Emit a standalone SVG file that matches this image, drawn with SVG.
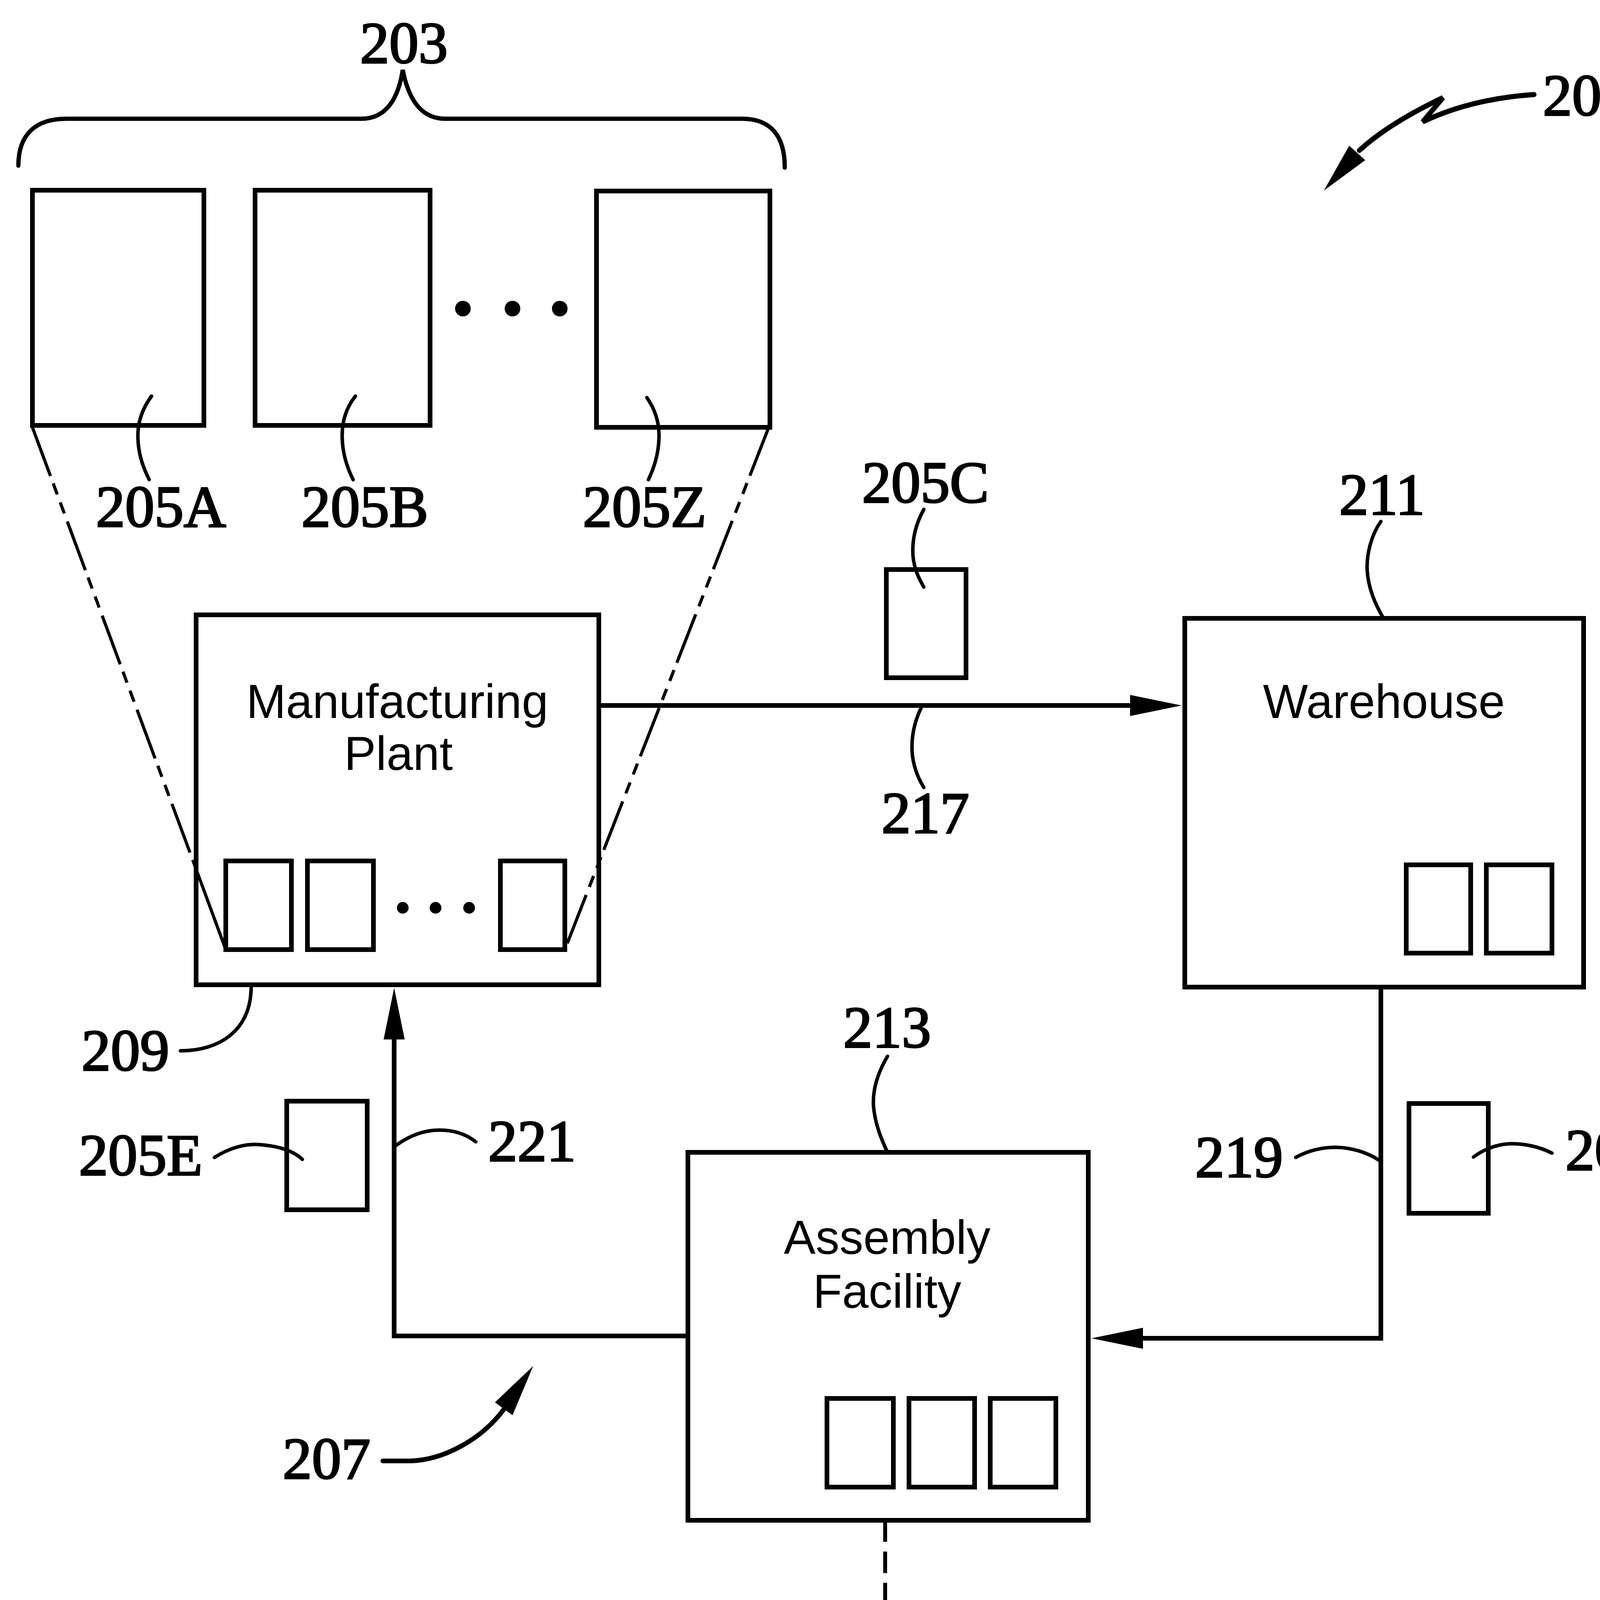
<svg xmlns="http://www.w3.org/2000/svg" width="4350" height="5287" viewBox="0 0 4350 5287">
<style>
.box{fill:none;stroke:#000;stroke-width:12}
.small{fill:none;stroke:#000;stroke-width:12}
.line{fill:none;stroke:#000;stroke-width:12}
.lead{fill:none;stroke:#000;stroke-width:9;stroke-linecap:round}
.brace{fill:none;stroke:#000;stroke-width:11;stroke-linecap:round}
.dd{fill:none;stroke:#000;stroke-width:8;stroke-dasharray:133 20 30 22 30 22}
.dash{fill:none;stroke:#000;stroke-width:10;stroke-dasharray:55 25}
.lbl{font-family:"Liberation Serif","DejaVu Serif",serif;font-size:150px;fill:#000;stroke:#000;stroke-width:4;text-anchor:middle}
.nt{font-family:"Liberation Sans",Arial,sans-serif;font-size:122px;fill:#000;text-anchor:middle}
.head{fill:#000}
</style>
<defs>
<marker id="ah" markerUnits="userSpaceOnUse" markerWidth="140" markerHeight="60" refX="10" refY="27" orient="auto">
<path d="M0,0 L132,27 L0,54 z" fill="#000"/>
</marker>
</defs>
<rect width="4350" height="5287" fill="#fff"/>

<g id="group-203">
<path class="brace" d="M47 424 C47 345 90 304 170 304 L925 304 C990 304 1020 250 1031 179 C1045 250 1075 304 1140 304 L1900 304 C1975 304 2009 350 2009 429"/>
<text class="lbl" x="1034" y="161">203</text>
<circle cx="1185" cy="790" r="20"/>
<circle cx="1312" cy="790" r="20"/>
<circle cx="1433" cy="790" r="20"/>
</g>

<g id="node-205A">
<rect class="box" x="83" y="487" width="439" height="602"/>
<path class="lead" d="M388 1014 C365 1045 352 1080 353 1120 C354 1165 368 1200 382 1228"/>
<text class="lbl" x="412" y="1348">205A</text>
</g>
<g id="node-205B">
<rect class="box" x="653" y="487" width="448" height="602"/>
<path class="lead" d="M910 1014 C885 1045 875 1080 876 1120 C877 1165 890 1200 904 1228"/>
<text class="lbl" x="934" y="1348">205B</text>
</g>
<g id="node-205Z">
<rect class="box" x="1527" y="489" width="444" height="605"/>
<path class="lead" d="M1656 1018 C1675 1045 1688 1080 1687 1120 C1686 1165 1673 1200 1660 1228"/>
<text class="lbl" x="1650" y="1348">205Z</text>
</g>

<g id="expansion-lines">
<path class="dd" d="M83 1094 L502 2225"/>
<path class="small" style="stroke-width:8" d="M502 2225 L578 2431"/>
<path class="dd" d="M1968 1094 L1446 2431"/>
</g>

<g id="label-201">
<text class="lbl" x="4062" y="295">201</text>
<path class="lead" style="stroke-width:13" d="M3927 242 C3840 248 3740 265 3642 312 L3694 250 C3620 285 3540 330 3480 385"/>
<polygon class="head" points="3389,488 3495,410 3454,373"/>
</g>

<g id="node-209">
<rect class="box" x="502" y="1574" width="1031" height="947"/>
<text class="nt" x="1017" y="1838">Manufacturing</text>
<text class="nt" x="1020" y="1971">Plant</text>
<rect class="small" x="578" y="2204" width="168" height="227"/>
<rect class="small" x="787" y="2204" width="169" height="227"/>
<rect class="small" x="1281" y="2204" width="165" height="227"/>
<circle cx="1031" cy="2324" r="15"/>
<circle cx="1115" cy="2324" r="15"/>
<circle cx="1201" cy="2324" r="15"/>
<path class="lead" d="M462 2690 C560 2690 643 2640 643 2525"/>
<text class="lbl" x="321" y="2740">209</text>
</g>

<g id="node-205C">
<rect class="box" x="2269" y="1458" width="204" height="277"/>
<path class="lead" d="M2365 1304 C2345 1340 2335 1380 2337 1420 C2340 1460 2355 1485 2365 1503"/>
<text class="lbl" x="2369" y="1286">205C</text>
</g>

<g id="node-211">
<rect class="box" x="3033" y="1583" width="1021" height="944"/>
<text class="nt" x="3543" y="1838">Warehouse</text>
<rect class="small" x="3600" y="2214" width="165" height="226"/>
<rect class="small" x="3805" y="2214" width="168" height="226"/>
<path class="lead" d="M3535 1335 C3510 1370 3498 1420 3500 1460 C3503 1510 3525 1555 3542 1583"/>
<text class="lbl" x="3538" y="1317">211</text>
</g>

<g id="node-213">
<rect class="box" x="1761" y="2950" width="1025" height="942"/>
<text class="nt" x="2271" y="3210">Assembly</text>
<text class="nt" x="2271" y="3348">Facility</text>
<rect class="small" x="2117" y="3580" width="170" height="227"/>
<rect class="small" x="2327" y="3580" width="168" height="227"/>
<rect class="small" x="2535" y="3580" width="168" height="227"/>
<path class="lead" d="M2272 2704 C2245 2750 2234 2790 2236 2830 C2240 2880 2258 2920 2272 2950"/>
<text class="lbl" x="2271" y="2681">213</text>
</g>

<g id="node-205E">
<rect class="box" x="734" y="2819" width="206" height="278"/>
<path class="lead" d="M549 2963 C590 2937 630 2928 660 2930 C710 2933 750 2945 774 2968"/>
<text class="lbl" x="360" y="3008">205E</text>
</g>

<g id="node-205D">
<rect class="box" x="3607" y="2825" width="203" height="281"/>
<path class="lead" d="M3973 2952 C3940 2935 3900 2927 3865 2928 C3825 2930 3795 2945 3772 2962"/>
<text class="lbl" x="4174" y="2995">205D</text>
</g>

<g id="node-215">
<path class="box" d="M1749 5295 V4706 H2777 V5295"/>
<text class="nt" x="2261" y="4965">Production</text>
<text class="nt" x="2264" y="5104">Facility</text>
<path class="lead" d="M2777 5002 C2810 4978 2845 4965 2880 4965 C2920 4966 2955 4980 2980 4998"/>
<text class="lbl" x="3128" y="5043">215</text>
</g>

<g id="connectors">
<path class="line" d="M1533 1806 H2903" marker-end="url(#ah)"/>
<path class="line" d="M3535 2527 V3426 H2916" marker-end="url(#ah)"/>
<path class="line" d="M1761 3420 H1009 V2651" marker-end="url(#ah)"/>
<path class="dash" d="M2266 3892 V4572" marker-end="url(#ah)"/>
<path class="lead" d="M2358 1812 C2340 1850 2333 1890 2335 1925 C2338 1965 2352 1995 2365 2016"/>
<text class="lbl" x="2369" y="2132">217</text>
<path class="lead" d="M3317 2963 C3350 2945 3385 2937 3420 2937 C3460 2938 3500 2950 3530 2970"/>
<text class="lbl" x="3172" y="3013">219</text>
<path class="lead" d="M1010 2935 C1050 2905 1090 2893 1125 2893 C1165 2893 1195 2905 1218 2923"/>
<text class="lbl" x="1362" y="2972">221</text>
<path class="lead" d="M2266 4282 C2300 4258 2335 4246 2371 4246 C2410 4247 2445 4262 2472 4283"/>
<text class="lbl" x="2611" y="4328">223</text>
<path class="lead" style="stroke-width:12" d="M980 3740 L1050 3740 C1130 3738 1230 3690 1292 3605"/>
<polygon class="head" points="1365,3497 1312,3623 1267,3590"/>
<text class="lbl" x="836" y="3785">207</text>
</g>
</svg>
